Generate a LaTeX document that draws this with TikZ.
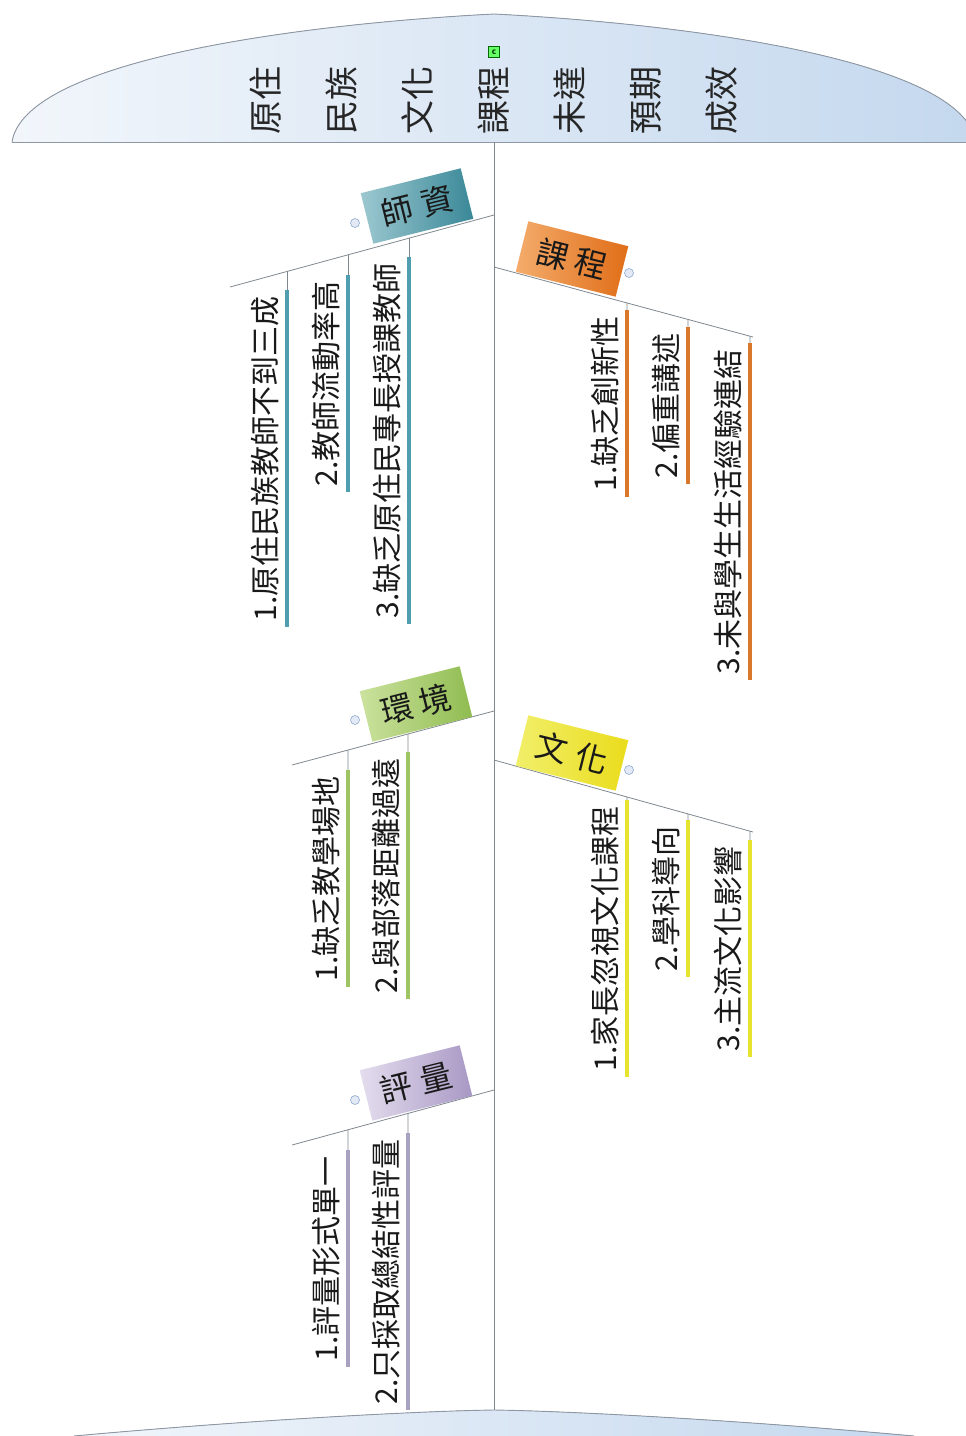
\documentclass[tikz,border=0pt]{standalone}
\usepackage{fontspec}
\setmainfont{Noto Sans CJK TC}
\definecolor{domeL}{HTML}{F2F6FB}
\definecolor{domeR}{HTML}{C4D8EE}
\definecolor{domeline}{HTML}{8E98A4}
\definecolor{lineg}{HTML}{80878E}
\definecolor{tealbar}{HTML}{4F9FB0}
\definecolor{tealL}{HTML}{9CC8D0}
\definecolor{tealR}{HTML}{3A8898}
\definecolor{orbar}{HTML}{D9772B}
\definecolor{orL}{HTML}{F4AC6C}
\definecolor{orR}{HTML}{E06E18}
\definecolor{grbar}{HTML}{9EC463}
\definecolor{grL}{HTML}{CBE29E}
\definecolor{grR}{HTML}{90BC50}
\definecolor{yebar}{HTML}{E6E42E}
\definecolor{yeL}{HTML}{F1EF6A}
\definecolor{yeR}{HTML}{EADC1C}
\definecolor{lvbar}{HTML}{A9A1C0}
\definecolor{lvL}{HTML}{E4DDEE}
\definecolor{lvR}{HTML}{A898C4}
\definecolor{iconF}{HTML}{E3EAF6}
\definecolor{iconD}{HTML}{8EA8CC}
\newcommand\fishsub[7]{%
  \coordinate (#1j) at (intersection of #2--#3 and #4,0--#4,1500);
  \node[subtext] (#1) at (#4,#5) {#7};
  \draw[thinline] (#1j) -- (#1.south east);
  \draw[subbar, draw=#6] (#1.south east) -- (#1.south west);
}
\begin{document}
\begin{tikzpicture}[x=1pt,y=-1pt,
  domeedge/.style={draw=domeline, line width=0.9pt},
  spineline/.style={draw=lineg, line width=1pt},
  branchline/.style={draw=lineg, line width=0.8pt},
  thinline/.style={draw=lineg, line width=0.6pt},
  subbar/.style={line width=4pt},
  subtext/.style={rotate=90, anchor=south east, inner xsep=6pt, inner ysep=10pt,
    text depth=0pt, font=\fontsize{30}{30}\selectfont, text=black!90},
  catbox/.style={minimum width=103pt, minimum height=52pt, inner sep=0pt,
    font=\fontsize{32}{32}\selectfont, text=black!90},
  icon/.style={circle, minimum size=9pt, inner sep=0pt, fill=iconF, draw=iconD, line width=0.6pt},
  cicon/.style={rectangle, minimum size=11pt, inner sep=0pt, fill=green!60, draw=green!40!black,
    line width=0.7pt, font=\fontsize{8}{8}\selectfont\bfseries, text=green!25!black},
  headtext/.style={rotate=90, align=center, font=\fontsize{34}{76}\selectfont, text=black!85}
]
\useasboundingbox (0,0) rectangle (966,1436);
% head dome
\fill[left color=domeL, right color=domeR] (12,142) .. controls (25,60) and (300,24) .. (494,14)
  .. controls (688,24) and (963,60) .. (976,142) -- cycle;
\draw[domeedge] (12,142) .. controls (25,60) and (300,24) .. (494,14)
  .. controls (688,24) and (963,60) .. (976,142);
\draw[domeedge] (12,142) -- (966,142);
% tail
\fill[left color=domeL, right color=domeR] (74,1436) .. controls (250,1420) and (420,1411) .. (494,1410)
  .. controls (568,1411) and (738,1420) .. (914,1436) -- cycle;
\draw[domeedge] (74,1436) .. controls (250,1420) and (420,1411) .. (494,1410)
  .. controls (568,1411) and (738,1420) .. (914,1436);
% title
\node[headtext] (title) at (494,100) {原住\\民族\\文化\\課程\\未達\\預期\\成效};
\node[cicon] (cmark) at (494,52) {c};
% spine
\coordinate (head) at (494,142);
\coordinate (tail) at (494,1410);
\draw[spineline] (head) -- (tail);
% branch: 師資
\coordinate (A1) at (494,215); \coordinate (A2) at (230,287);
\draw[branchline] (A1) -- (A2);
\node[catbox, rotate=14, left color=tealL, right color=tealR] (shizi) at (417,206) {師\hspace{10pt}資};
\node[icon] (ia) at (355,223) {};
\fishsub{a1}{A1}{A2}{287}{290}{tealbar}{1.原住民族教師不到三成}
\fishsub{a2}{A1}{A2}{348}{275}{tealbar}{2.教師流動率高}
\fishsub{a3}{A1}{A2}{409}{257}{tealbar}{3.缺乏原住民專長授課教師}
% branch: 課程
\coordinate (B1) at (494,267); \coordinate (B2) at (753,337);
\draw[branchline] (B1) -- (B2);
\node[catbox, rotate=-14, left color=orL, right color=orR] (kecheng) at (572,259) {課\hspace{7pt}程};
\node[icon] (ib) at (629,273) {};
\fishsub{b1}{B1}{B2}{627}{310}{orbar}{1.缺乏創新性}
\fishsub{b2}{B1}{B2}{688}{327}{orbar}{2.偏重講述}
\fishsub{b3}{B1}{B2}{750}{343}{orbar}{3.未與學生生活經驗連結}
% branch: 環境
\coordinate (C1) at (494,711); \coordinate (C2) at (292,765);
\draw[branchline] (C1) -- (C2);
\node[catbox, rotate=14, left color=grL, right color=grR] (huanjing) at (416,704) {環\hspace{7pt}境};
\node[icon] (ic) at (355,720) {};
\fishsub{c1}{C1}{C2}{348}{770}{grbar}{1.缺乏教學場地}
\fishsub{c2}{C1}{C2}{408}{752}{grbar}{2.與部落距離過遠}
% branch: 文化
\coordinate (D1) at (494,760); \coordinate (D2) at (753,832);
\draw[branchline] (D1) -- (D2);
\node[catbox, rotate=-14, left color=yeL, right color=yeR] (wenhua) at (572,753) {文\hspace{10pt}化};
\node[icon] (id) at (629,770) {};
\fishsub{d1}{D1}{D2}{627}{800}{yebar}{1.家長忽視文化課程}
\fishsub{d2}{D1}{D2}{688}{820}{yebar}{2.學科導向}
\fishsub{d3}{D1}{D2}{750}{840}{yebar}{3.主流文化影響}
% branch: 評量
\coordinate (E1) at (494,1090); \coordinate (E2) at (292,1145);
\draw[branchline] (E1) -- (E2);
\node[catbox, rotate=14, left color=lvL, right color=lvR] (pingliang) at (416,1083) {評\hspace{10pt}量};
\node[icon] (ie) at (355,1100) {};
\fishsub{e1}{E1}{E2}{348}{1150}{lvbar}{1.評量形式單一}
\fishsub{e2}{E1}{E2}{408}{1133}{lvbar}{2.只採取總結性評量}
\end{tikzpicture}
\end{document}
